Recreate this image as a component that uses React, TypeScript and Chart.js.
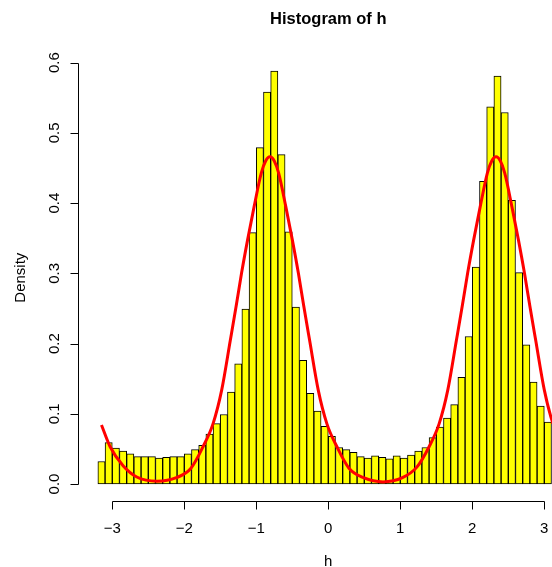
import React, { useEffect, useRef } from 'react';
import { Chart, registerables } from 'chart.js';

Chart.register(...registerables);

// Histogram bins (midpoints, width 0.1) and densities
const binMids = [
  -3.15, -3.05, -2.95, -2.85, -2.75, -2.65, -2.55, -2.45, -2.35, -2.25,
  -2.15, -2.05, -1.95, -1.85, -1.75, -1.65, -1.55, -1.45, -1.35, -1.25,
  -1.15, -1.05, -0.95, -0.85, -0.75, -0.65, -0.55, -0.45, -0.35, -0.25,
  -0.15, -0.05, 0.05, 0.15, 0.25, 0.35, 0.45, 0.55, 0.65, 0.75,
  0.85, 0.95, 1.05, 1.15, 1.25, 1.35, 1.45, 1.55, 1.65, 1.75,
  1.85, 1.95, 2.05, 2.15, 2.25, 2.35, 2.45, 2.55, 2.65, 2.75,
  2.85, 2.95, 3.05,
];
const densities = [
  0.032, 0.059, 0.051, 0.047, 0.043, 0.039, 0.039, 0.039, 0.037, 0.038,
  0.039, 0.039, 0.043, 0.049, 0.055, 0.071, 0.086, 0.099, 0.131, 0.171,
  0.249, 0.358, 0.479, 0.558, 0.588, 0.469, 0.359, 0.252, 0.176, 0.129,
  0.104, 0.082, 0.068, 0.052, 0.049, 0.045, 0.039, 0.037, 0.040, 0.038,
  0.036, 0.040, 0.037, 0.041, 0.047, 0.052, 0.066, 0.081, 0.094, 0.113,
  0.152, 0.210, 0.309, 0.431, 0.537, 0.581, 0.529, 0.404, 0.301, 0.198,
  0.145, 0.111, 0.088,
];

// Red density curve
const curveX = [
  -3.15, -3.03, -2.85, -2.66, -2.38, -2.11, -1.91, -1.74, -1.60, -1.48,
  -1.36, -1.28, -1.205, -1.12, -1.03, -0.93, -0.87, -0.81, -0.75, -0.69,
  -0.59, -0.50, -0.415, -0.34, -0.26, -0.14, -0.02, 0.12, 0.29, 0.49,
  0.76, 1.03, 1.23, 1.40, 1.54, 1.66, 1.78, 1.86, 1.935, 2.02,
  2.11, 2.21, 2.27, 2.33, 2.39, 2.45, 2.55, 2.64, 2.725, 2.80,
  2.88, 3.00, 3.12, 3.26,
];
const curveY = [
  0.084, 0.053, 0.026, 0.010, 0.004, 0.009, 0.022, 0.053, 0.086, 0.134,
  0.205, 0.253, 0.300, 0.348, 0.395, 0.443, 0.460, 0.466, 0.460, 0.443,
  0.395, 0.348, 0.300, 0.253, 0.205, 0.134, 0.086, 0.053, 0.022, 0.009,
  0.003, 0.009, 0.024, 0.053, 0.086, 0.134, 0.205, 0.253, 0.300, 0.348,
  0.395, 0.443, 0.460, 0.466, 0.460, 0.443, 0.395, 0.348, 0.300, 0.253,
  0.205, 0.134, 0.086, 0.053,
];

const xTicks = [-3, -2, -1, 0, 1, 2, 3];
const xTickLabels = ['\u22123', '\u22122', '\u22121', '0', '1', '2', '3'];
const yTicks = [0, 0.1, 0.2, 0.3, 0.4, 0.5, 0.6];
const yTickLabels = ['0.0', '0.1', '0.2', '0.3', '0.4', '0.5', '0.6'];

const titleText = 'Histogram of h';
const xTitle = 'h';
const yTitle = 'Density';

const FONT = "'Liberation Sans', Arial, Helvetica, sans-serif";

const rAxesPlugin = {
  id: 'rAxes',
  afterDraw(chart: any) {
    const { ctx, chartArea } = chart;
    const xs = chart.scales.x;
    const ys = chart.scales.y;
    ctx.save();
    ctx.strokeStyle = '#000';
    ctx.fillStyle = '#000';
    ctx.lineWidth = 1;

    // x axis
    const axY = Math.round(chartArea.bottom) + 0.5;
    const xa = xs.getPixelForValue(xTicks[0]);
    const xb = xs.getPixelForValue(xTicks[xTicks.length - 1]);
    ctx.beginPath();
    ctx.moveTo(Math.round(xa) + 0.5, axY);
    ctx.lineTo(Math.round(xb) + 0.5, axY);
    xTicks.forEach((t) => {
      const px = Math.round(xs.getPixelForValue(t)) + 0.5;
      ctx.moveTo(px, axY);
      ctx.lineTo(px, axY + 8);
    });
    ctx.stroke();
    ctx.font = `15px ${FONT}`;
    ctx.textAlign = 'center';
    ctx.textBaseline = 'alphabetic';
    xTicks.forEach((t, i) => {
      ctx.fillText(xTickLabels[i], xs.getPixelForValue(t), 532.5);
    });

    // y axis
    const axX = Math.round(chartArea.left) + 0.5;
    const ya = ys.getPixelForValue(yTicks[0]);
    const yb = ys.getPixelForValue(yTicks[yTicks.length - 1]);
    ctx.beginPath();
    ctx.moveTo(axX, Math.round(ya) + 0.5);
    ctx.lineTo(axX, Math.round(yb) + 0.5);
    yTicks.forEach((t) => {
      const py = Math.round(ys.getPixelForValue(t)) + 0.5;
      ctx.moveTo(axX, py);
      ctx.lineTo(axX - 8, py);
    });
    ctx.stroke();
    yTicks.forEach((t, i) => {
      ctx.save();
      ctx.translate(59, ys.getPixelForValue(t));
      ctx.rotate(-Math.PI / 2);
      ctx.fillText(yTickLabels[i], 0, 0);
      ctx.restore();
    });

    // axis titles
    ctx.fillText(xTitle, xs.getPixelForValue(0), 566);
    ctx.save();
    ctx.translate(25, (chartArea.top + chartArea.bottom) / 2);
    ctx.rotate(-Math.PI / 2);
    ctx.fillText(yTitle, 0, 0);
    ctx.restore();

    // main title
    ctx.font = `bold 16.5px ${FONT}`;
    ctx.fillText(titleText, xs.getPixelForValue(0), 23.5);
    ctx.restore();
  },
};

export default function App() {
  const ref = useRef<HTMLCanvasElement | null>(null);

  useEffect(() => {
    document.body.style.margin = '0';
    document.body.style.background = '#ffffff';
    const canvas = ref.current;
    if (!canvas) return;
    const chart = new Chart(canvas, {
      type: 'bar',
      data: {
        datasets: [
          {
            type: 'line',
            data: curveX.map((v, i) => ({ x: v, y: curveY[i] })),
            borderColor: '#ff0000',
            borderWidth: 3,
            pointRadius: 0,
            fill: false,
            cubicInterpolationMode: 'monotone',
            order: 1,
          } as any,
          {
            type: 'bar',
            data: binMids.map((m, i) => ({ x: m, y: densities[i] })),
            backgroundColor: '#ffff00',
            borderColor: '#000000',
            borderWidth: 1,
            borderSkipped: false,
            barPercentage: 1,
            categoryPercentage: 1,
            order: 2,
          } as any,
        ],
      },
      options: {
        animation: false,
        responsive: false,
        devicePixelRatio: 1,
        layout: { padding: { left: 78, top: 54.6, right: 0, bottom: 66.3 } },
        scales: {
          x: {
            type: 'linear',
            display: false,
            offset: false,
            grid: { offset: false },
            min: -3.476,
            max: 3.107,
          },
          y: { type: 'linear', display: false, min: -0.0238, max: 0.6115 },
        },
        plugins: {
          legend: { display: false },
          tooltip: { enabled: false },
          title: { display: false },
        },
      },
      plugins: [rAxesPlugin],
    });
    return () => chart.destroy();
  }, []);

  return (
    <canvas
      ref={ref}
      width={552}
      height={567}
      style={{ display: 'block', width: 552, height: 567 }}
    />
  );
}
